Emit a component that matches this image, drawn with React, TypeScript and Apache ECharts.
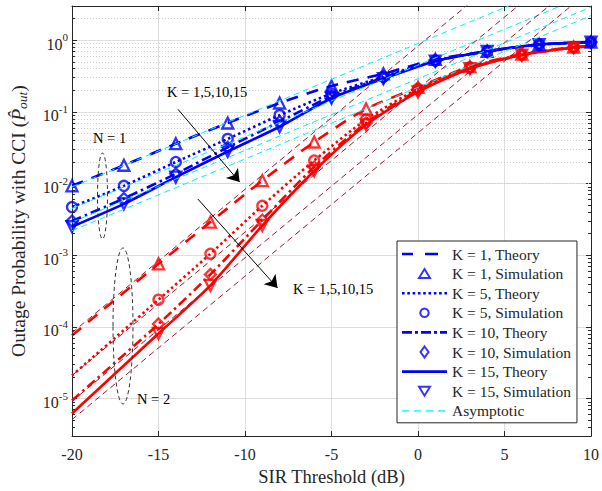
import React, { useEffect, useRef } from 'react';
import * as echarts from 'echarts';

const FONT = "'Liberation Serif', 'Times New Roman', Times, serif";
const BLUE = '#0000ff';
const RED = '#ff0000';
const CYAN = '#00f0f0';
const DRED = '#a2142f';
const INK = '#262626';

const kValues = ['1', '5', '10', '15'];

// N = 1 (blue): theory sampled at the simulation points
const blueX = [-20, -17, -14, -11, -8, -5, -2, 1, 4, 7, 10];
const blueK1 = [0.0093, 0.018, 0.036, 0.070, 0.133, 0.23, 0.34, 0.54, 0.70, 0.87, 0.94];
const blueK5 = [0.0047, 0.0093, 0.020, 0.042, 0.090, 0.18, 0.31, 0.52, 0.70, 0.87, 0.94];
const blueK10 = [0.0030, 0.0062, 0.0137, 0.032, 0.073, 0.165, 0.30, 0.51, 0.70, 0.87, 0.94];
const blueK15 = [0.0025, 0.0052, 0.0123, 0.028, 0.062, 0.155, 0.29, 0.51, 0.70, 0.87, 0.94];

// N = 2 (red) theory
const redX = [-20, -15, -12, -9, -6, -3, 0, 3, 6, 9, 10];
const redK1 = [7.6e-5, 7.6e-4, 0.0029, 0.011, 0.038, 0.11, 0.22, 0.43, 0.64, 0.80, 0.83];
const redK5 = [2.1e-5, 2.4e-4, 1.05e-3, 0.0049, 0.021, 0.078, 0.21, 0.42, 0.63, 0.80, 0.83];
const redK10 = [9.4e-6, 1.1e-4, 5.4e-4, 0.0031, 0.017, 0.070, 0.20, 0.41, 0.62, 0.79, 0.82];
const redK15 = [6.2e-6, 8.1e-5, 3.8e-4, 0.0026, 0.015, 0.066, 0.19, 0.40, 0.62, 0.79, 0.82];

// N = 2 (red) simulation
const redSimX = [-15, -12, -9, -6, -3, 0, 3, 6, 9];
const redSimK1 = [7.6e-4, 0.0029, 0.011, 0.038, 0.11, 0.22, 0.43, 0.64, 0.80];
const redSimK5 = [2.4e-4, 1.05e-3, 0.0049, 0.021, 0.078, 0.21, 0.42, 0.63, 0.80];
const redSimK10 = [1.1e-4, 5.4e-4, 0.0031, 0.017, 0.070, 0.20, 0.41, 0.62, 0.79];
const redSimK15 = [8.1e-5, 3.8e-4, 0.0026, 0.015, 0.066, 0.19, 0.40, 0.62, 0.79];

// Asymptotes (straight lines between -20 dB and 10 dB)
const asymX = [-20, 10];
const cyanAsymStart = [0.0090, 0.0045, 0.0029, 0.0022];
const cyanAsymEnd = [9.0, 4.5, 2.9, 2.2];
const dredAsymStart = [8.3e-5, 2.1e-5, 9.2e-6, 5.1e-6];
const dredAsymEnd = [83, 21, 9.2, 5.1];

// axes
const xMin = -20;
const xMax = 10;
const xStep = 5;
const yMin = 3e-6;
const yMax = 3;
const minorDecades = [-6, -5, -4, -3, -2, -1, 0];
const minorMantissas = [2, 3, 4, 5, 6, 7, 8, 9];
const minorTickLen = 0.17; // dB, about 3 px

// annotations [x dB, y value]
const arrowA = [[-13.88, 0.109], [-10.31, 0.0105]];
const arrowB = [[-12.73, 0.0061], [-8.12, 3.5e-4]];

const lineTypes: any[] = [[12, 9], [2.5, 3], [10, 4, 2.5, 4], 'solid'];
const simSymbols = ['triangle', 'circle', 'diamond', 'triangle'];
const simRotate = [0, 0, 0, 180];

const dottedIcon = (() => {
  let s = 'path://';
  for (let i = 0; i < 9; i++) s += `M${(i * 5.3).toFixed(1)},0h2.6v2.6h-2.6z`;
  return s + 'M45,0';
})();
const theoryIcons = [
  'path://M0,0h11v2.6h-11zM23,0h13v2.6h-13zM45,0',
  dottedIcon,
  'path://M0,0h10v2.6h-10zM13,0h3v2.6h-3zM19,0h10v2.6h-10zM32,0h3v2.6h-3zM38,0h7v2.6h-7z',
  'path://M0,0h45v2.6h-45z',
];
const simIcons = [
  'path://M0,0M14,14M7,2.5L12.5,11.5L1.5,11.5Z',
  'path://M0,0M14,14M7,2.8A4.2,4.2,0,1,1,6.99,2.8Z',
  'path://M0,0M14,14M7,1.5L11,7L7,12.5L3,7Z',
  'path://M0,0M14,14M1.5,2.5L12.5,2.5L7,11.5Z',
];
const asymIcon = 'path://M0,0h7v1.3h-7zM12,0h7v1.3h-7zM24,0h7v1.3h-7zM36,0h7v1.3h-7zM45,0';

function pairs(xs: number[], ys: number[]) {
  return xs.map((x, i) => [x, ys[i]]);
}

export default function App() {
  const ref = useRef<HTMLDivElement>(null);
  useEffect(() => {
    if (!ref.current) return;
    const chart = echarts.init(ref.current, undefined, { renderer: 'svg' });

    const blueSets = [blueK1, blueK5, blueK10, blueK15];
    const redSets = [redK1, redK5, redK10, redK15];
    const redSimSets = [redSimK1, redSimK5, redSimK10, redSimK15];

    const series: any[] = [];

    const minorVals: number[] = [];
    minorDecades.forEach((d) =>
      minorMantissas.forEach((m) => {
        const v = m * Math.pow(10, d);
        if (v > yMin && v < yMax) minorVals.push(v);
      })
    );
    series.push({
      type: 'line',
      name: 'minor-grid',
      data: [],
      silent: true,
      markLine: {
        silent: true,
        z: 1,
        symbol: 'none',
        label: { show: false },
        lineStyle: { color: '#cdcdcd', type: [1, 2], width: 1 },
        data: minorVals.map((v) => ({ yAxis: v })),
        animation: false,
      },
    });
    const tickPairs: any[] = [];
    minorVals.forEach((v) => {
      tickPairs.push([{ coord: [xMin, v] }, { coord: [xMin + minorTickLen, v] }]);
      tickPairs.push([{ coord: [xMax - minorTickLen, v] }, { coord: [xMax, v] }]);
    });
    series.push({
      type: 'line',
      name: 'minor-ticks',
      data: [],
      silent: true,
      markLine: {
        silent: true,
        z: 6,
        symbol: 'none',
        label: { show: false },
        lineStyle: { color: INK, type: 'solid', width: 1 },
        data: tickPairs,
        animation: false,
      },
    });

    const addGroup = (color: string, xs: number[], sets: number[][], simX: number[], simSets: number[][]) => {
      kValues.forEach((k, i) => {
        series.push({
          type: 'line',
          name: `K = ${k}, Theory`,
          data: pairs(xs, sets[i]),
          symbol: 'none',
          showSymbol: false,
          smooth: 0.25,
          silent: true,
          z: 3,
          color,
          lineStyle: { color, width: 2.6, type: lineTypes[i], cap: 'butt' },
          itemStyle: { color },
        });
        series.push({
          type: 'scatter',
          name: `K = ${k}, Simulation`,
          data: pairs(simX, simSets[i]),
          symbol: simSymbols[i],
          symbolRotate: simRotate[i],
          symbolSize: i === 1 ? 10 : 11,
          silent: true,
          z: 4,
          itemStyle: { color: 'rgba(0,0,0,0)', borderColor: color, borderWidth: 2.3 },
        });
      });
    };
    addGroup(BLUE, blueX, blueSets, blueX, blueSets);
    addGroup(RED, redX, redSets, redSimX, redSimSets);

    cyanAsymStart.forEach((s, i) => {
      series.push({
        type: 'line',
        name: 'Asymptotic',
        data: pairs(asymX, [s, cyanAsymEnd[i]]),
        symbol: 'none',
        silent: true,
        z: 5,
        color: CYAN,
        lineStyle: { color: CYAN, width: 1, type: [6, 4] },
        itemStyle: { color: CYAN },
      });
    });
    dredAsymStart.forEach((s, i) => {
      series.push({
        type: 'line',
        name: 'asym-n2-' + i,
        data: pairs(asymX, [s, dredAsymEnd[i]]),
        symbol: 'none',
        silent: true,
        z: 5,
        color: DRED,
        lineStyle: { color: DRED, width: 1, type: [6, 4] },
        itemStyle: { color: DRED },
      });
    });

    series.push({
      type: 'line',
      name: 'annotations',
      data: [],
      silent: true,
      markLine: {
        silent: true,
        z: 6,
        symbol: ['none', 'arrow'],
        symbolSize: 12,
        label: { show: false },
        lineStyle: { color: '#000', width: 1, type: 'solid' },
        data: [
          [{ coord: arrowA[0] }, { coord: arrowA[1] }],
          [{ coord: arrowB[0] }, { coord: arrowB[1] }],
        ],
        animation: false,
      },
    });

    const legendData: any[] = [];
    kValues.forEach((k, i) => {
      legendData.push({ name: `K = ${k}, Theory`, icon: theoryIcons[i], itemStyle: { color: BLUE, borderWidth: 0 } });
      legendData.push({
        name: `K = ${k}, Simulation`,
        icon: simIcons[i],
        itemStyle: { color: 'rgba(0,0,0,0)', borderColor: BLUE, borderWidth: 2 },
      });
    });
    legendData.push({ name: 'Asymptotic', icon: asymIcon, itemStyle: { color: CYAN, borderColor: CYAN, borderWidth: 0 } });

    const logLabel = (v: number) => {
      const e = Math.log10(v);
      const r = Math.round(e);
      if (Math.abs(e - r) > 1e-3) return '';
      return `{b|10}{s|${r}}`;
    };

    const textStyleBase = { fontFamily: FONT, color: INK };

    chart.setOption({
      animation: false,
      backgroundColor: '#fff',
      grid: { left: 72, right: 10, top: 6, bottom: 54, containLabel: false },
      xAxis: [
        {
          type: 'value',
          min: xMin,
          max: xMax,
          interval: xStep,
          name: 'SIR Threshold (dB)',
          nameLocation: 'middle',
          nameGap: 30,
          nameTextStyle: { ...textStyleBase, fontSize: 18.5 },
          axisLine: { show: true, lineStyle: { color: INK, width: 1 } },
          axisTick: { show: true, inside: true, length: 5, lineStyle: { color: INK } },
          axisLabel: { ...textStyleBase, fontSize: 16, margin: 10 },
          splitLine: { show: true, lineStyle: { color: '#dedede', width: 1 } },
        },
        {
          type: 'value',
          position: 'top',
          min: xMin,
          max: xMax,
          interval: xStep,
          axisLine: { show: true, onZero: false, lineStyle: { color: INK, width: 1 } },
          axisTick: { show: true, inside: true, length: 5, lineStyle: { color: INK } },
          axisLabel: { show: false },
          splitLine: { show: false },
        },
      ],
      yAxis: [
        {
          type: 'log',
          logBase: 10,
          min: yMin,
          max: yMax,
          name: '{a|Outage Probability with CCI (}{p|P\u0302}{s|out}{a|)}',
          nameLocation: 'middle',
          nameGap: 43,
          nameTextStyle: {
            ...textStyleBase,
            fontSize: 19.5,
            rich: {
              a: { ...textStyleBase, fontSize: 19.5 },
              p: { ...textStyleBase, fontSize: 19.5, fontStyle: 'italic' },
              s: { ...textStyleBase, fontSize: 13.5, fontStyle: 'italic', padding: [8, 0, 0, 0] },
            },
          },
          axisLine: { show: true, onZero: false, lineStyle: { color: INK, width: 1 } },
          axisTick: { show: true, inside: true, length: 5, lineStyle: { color: INK } },
          axisLabel: {
            ...textStyleBase,
            margin: 4,
            formatter: logLabel,
            rich: {
              b: { ...textStyleBase, fontSize: 16, padding: [8, 0, 0, 0] },
              s: { ...textStyleBase, fontSize: 11, padding: [0, 0, 6, 0] },
            },
          },
          splitLine: { show: true, lineStyle: { color: '#dedede', width: 1 } },
        },
        {
          type: 'log',
          logBase: 10,
          position: 'right',
          min: yMin,
          max: yMax,
          axisLine: { show: true, onZero: false, lineStyle: { color: INK, width: 1 } },
          axisTick: { show: true, inside: true, length: 5, lineStyle: { color: INK } },
          axisLabel: { show: false },
          splitLine: { show: false },
        },
      ],
      legend: {
        show: true,
        orient: 'vertical',
        left: 397,
        top: 241,
        itemWidth: 45,
        itemHeight: 14,
        itemGap: 3.6,
        padding: [5, 6, 4, 5],
        borderColor: INK,
        borderWidth: 1,
        backgroundColor: '#fff',
        selectedMode: false,
        textStyle: { ...textStyleBase, fontSize: 15.5, lineHeight: 15 },
        data: legendData,
        z: 10,
      },
      graphic: [
        { type: 'text', left: 167, top: 84, z: 20, style: { text: 'K = 1,5,10,15', fontFamily: FONT, fontSize: 14.5, fill: '#000' } },
        { type: 'text', left: 293, top: 281, z: 20, style: { text: 'K = 1,5,10,15', fontFamily: FONT, fontSize: 14.5, fill: '#000' } },
        { type: 'text', left: 93, top: 130, z: 20, style: { text: 'N = 1', fontFamily: FONT, fontSize: 14.5, fill: '#000' } },
        { type: 'text', left: 137, top: 391, z: 20, style: { text: 'N = 2', fontFamily: FONT, fontSize: 14.5, fill: '#000' } },
        {
          type: 'ellipse',
          z: 20,
          shape: { cx: 102.5, cy: 196, rx: 5, ry: 43 },
          style: { fill: 'none', stroke: '#333', lineWidth: 1, lineDash: [4, 3] },
        },
        {
          type: 'ellipse',
          z: 20,
          shape: { cx: 123, cy: 326, rx: 10, ry: 78 },
          style: { fill: 'none', stroke: '#333', lineWidth: 1, lineDash: [4, 3] },
        },
      ],
      series,
    });

    return () => chart.dispose();
  }, []);

  return (
    <div
      ref={ref}
      style={{ position: 'fixed', left: 0, top: 0, width: 602, height: 491, background: '#fff' }}
    />
  );
}
